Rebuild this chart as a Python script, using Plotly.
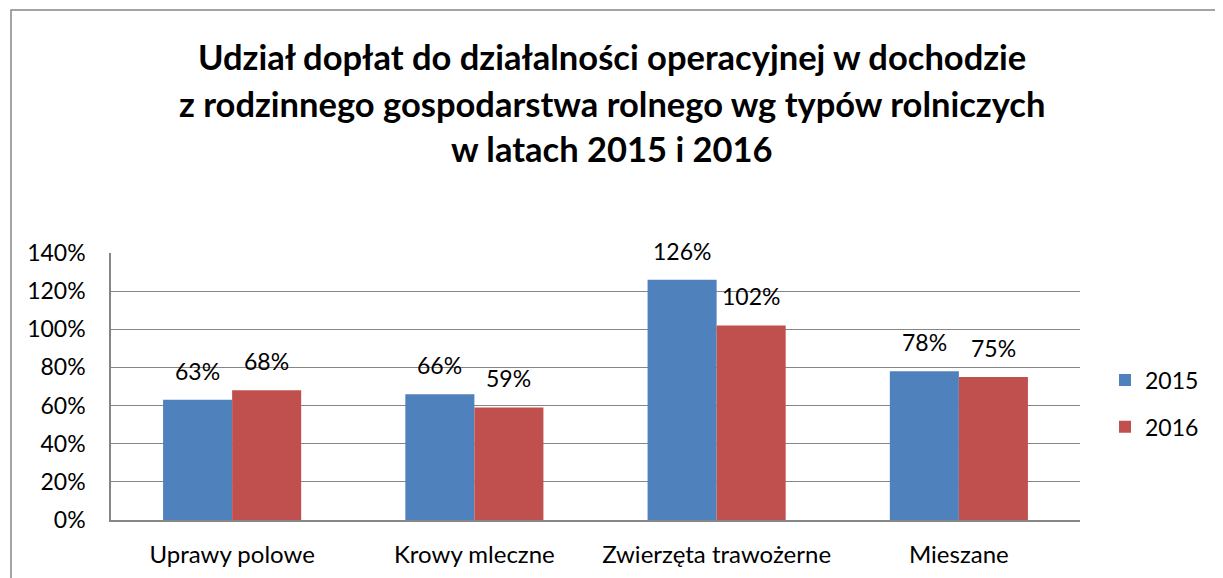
import plotly.graph_objects as go

categories = ["Uprawy polowe", "Krowy mleczne", "Zwierzęta trawożerne", "Mieszane"]
years = ["2015", "2016"]
values_2015 = [0.63, 0.66, 1.26, 0.78]
values_2016 = [0.68, 0.59, 1.02, 0.75]
colors = ["#4F81BD", "#C0504D"]
title_lines = [
    "Udział dopłat do działalności operacyjnej w dochodzie",
    "z rodzinnego gospodarstwa rolnego wg typów rolniczych",
    "w latach 2015 i 2016",
]
y_ticks = [0, 0.2, 0.4, 0.6, 0.8, 1.0, 1.2, 1.4]

FONT = "Lato"
FS = 23
OFF = 8  # page body margin
W, H = 1223, 578
ml, mt = 111 - OFF, 253 - OFF
mr = W - (1080 - OFF)
mb = H - (520 - OFF)
pw, ph = W - ml - mr, H - mt - mb

fig = go.Figure()
series = [values_2015, values_2016]
for i, (name, vals) in enumerate(zip(years, series)):
    fig.add_trace(go.Bar(
        x=categories, y=vals, name=name,
        marker=dict(color=colors[i], line=dict(width=0)),
        legendgroup=name,
    ))

bargap = 0.43
bar_px = (pw / len(categories)) * (1 - bargap) / 2
annotations = []
for i, vals in enumerate(series):
    shift = (-0.5 if i == 0 else 0.5) * bar_px
    for c, v in zip(categories, vals):
        annotations.append(dict(
            x=c, y=v, xref="x", yref="y", text=f"{round(v*100)}%",
            showarrow=False, xshift=shift, yanchor="bottom", yshift=13,
            font=dict(family=FONT, size=FS, color="#000000"),
        ))

def py(pix):
    return (H - mb - (pix - OFF)) / ph

def px(pix):
    return ((pix - OFF) - ml) / pw

for line, ypix in zip(title_lines, [57, 104, 149]):
    annotations.append(dict(
        x=px(612), y=py(ypix - 1), xref="paper", yref="paper", text=f"<b>{line}</b>",
        showarrow=False, xanchor="center", yanchor="middle",
        font=dict(family=FONT, size=34.5, color="#000000"),
    ))

fig.update_layout(
    width=W, height=H,
    margin=dict(l=ml, r=mr, t=mt, b=mb, pad=0),
    paper_bgcolor="white", plot_bgcolor="white",
    barmode="group", bargap=bargap, bargroupgap=0,
    font=dict(family=FONT, size=FS, color="#000000"),
    showlegend=True,
    legend=dict(
        x=px(1105), y=py(403.5), xanchor="left", yanchor="middle",
        font=dict(family=FONT, size=FS, color="#000000"),
        tracegroupgap=14, bgcolor="rgba(0,0,0,0)",
    ),
    annotations=annotations,
    shapes=[dict(
        type="rect", xref="paper", yref="paper",
        x0=px(11), x1=px(1400), y0=py(700), y1=py(10),
        line=dict(color="#868686", width=1.5), layer="below",
    )],
)
fig.update_xaxes(
    showline=True, linecolor="#868686", linewidth=1.5,
    ticks="", showgrid=False, tickfont=dict(family=FONT, size=24),
    ticklabelstandoff=12,
)
fig.update_yaxes(
    range=[0, 1.4], tickvals=y_ticks, tickformat=".0%",
    showline=True, linecolor="#868686", linewidth=1.5,
    showgrid=True, gridcolor="#868686", gridwidth=1.2,
    zeroline=False, ticks="", tickfont=dict(family=FONT, size=FS),
    ticklabelstandoff=19,
)

fig.write_html("out.html")
